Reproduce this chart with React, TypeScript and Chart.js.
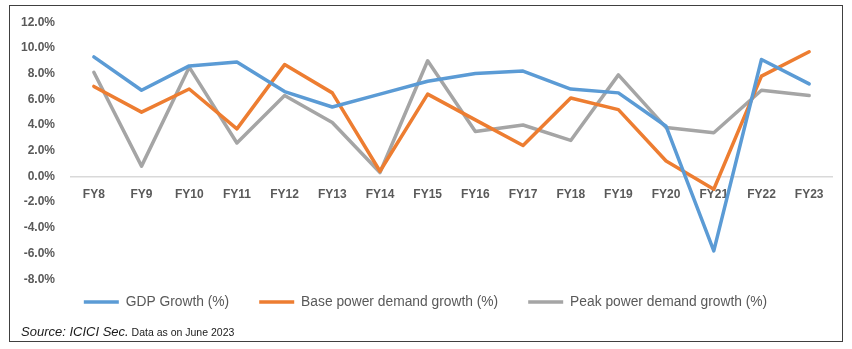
import React, { useEffect, useRef } from 'react';
import { Chart, registerables } from 'chart.js';

Chart.register(...registerables);

const categories = ['FY8', 'FY9', 'FY10', 'FY11', 'FY12', 'FY13', 'FY14', 'FY15', 'FY16', 'FY17', 'FY18', 'FY19', 'FY20', 'FY21', 'FY22', 'FY23'];
const gdpGrowth = [9.3, 6.7, 8.6, 8.9, 6.6, 5.4, 6.4, 7.4, 8.0, 8.2, 6.8, 6.5, 3.9, -5.8, 9.1, 7.2];
const basePowerDemandGrowth = [7.0, 5.0, 6.8, 3.7, 8.7, 6.5, 0.4, 6.4, 4.4, 2.4, 6.1, 5.2, 1.2, -1.0, 7.8, 9.7];
const peakPowerDemandGrowth = [8.1, 0.8, 8.5, 2.6, 6.3, 4.2, 0.3, 9.0, 3.5, 4.0, 2.8, 7.9, 3.8, 3.4, 6.7, 6.3];
const seriesNames = ['GDP Growth (%)', 'Base power demand growth (%)', 'Peak power demand growth (%)'];
const seriesColors = ['#5B9BD5', '#ED7D31', '#A5A5A5'];
const yMin = -8;
const yMax = 12;
const yStep = 2;

const legendShift = {
  id: 'legendShift',
  afterLayout(chart: any) {
    const l = chart.legend;
    if (l) {
      l.top -= 14;
      l.bottom -= 14;
      l.left += 5;
      l.right += 5;
    }
  },
};

export default function App() {
  const canvasRef = useRef<HTMLCanvasElement | null>(null);

  useEffect(() => {
    const canvas = canvasRef.current;
    if (!canvas) return;
    const seriesData = [gdpGrowth, basePowerDemandGrowth, peakPowerDemandGrowth];
    const chart = new Chart(canvas, {
      type: 'line',
      data: {
        labels: categories,
        datasets: seriesData.map((d, i) => ({
          label: seriesNames[i],
          data: d,
          borderColor: seriesColors[i],
          backgroundColor: seriesColors[i],
          borderWidth: 3.5,
          borderCapStyle: 'round' as const,
          borderJoinStyle: 'round' as const,
          pointRadius: 0,
          pointHoverRadius: 0,
          pointStyle: 'line' as const,
          tension: 0,
          fill: false,
        })),
      },
      options: {
        responsive: false,
        animation: false,
        maintainAspectRatio: false,
        layout: { padding: { left: 8, right: 19, top: 18, bottom: 16 } },
        plugins: {
          tooltip: { enabled: false },
          legend: {
            position: 'bottom',
            labels: {
              usePointStyle: true,
              pointStyle: 'line',
              pointStyleWidth: 35,
              boxHeight: 4,
              padding: 30,
              color: '#595959',
              font: { family: '"Liberation Sans", Arial, sans-serif', size: 13.8 },
            },
          },
        },
        scales: {
          x: {
            type: 'category',
            position: { y: 0 } as any,
            offset: true,
            grid: { display: false, drawTicks: false },
            border: { display: false },
            ticks: {
              padding: 11,
              color: '#595959',
              maxRotation: 0,
              autoSkip: false,
              font: { family: '"Liberation Sans", Arial, sans-serif', size: 12, weight: 'bold' },
            },
          },
          y: {
            min: yMin,
            max: yMax,
            afterFit: (scale: any) => {
              scale.width = 62;
            },
            grid: {
              drawTicks: false,
              lineWidth: 1.5,
              color: (ctx: any) => (ctx.tick && ctx.tick.value === 0 ? '#D9D9D9' : 'rgba(0,0,0,0)'),
            },
            border: { display: false },
            ticks: {
              stepSize: yStep,
              padding: 15,
              color: '#595959',
              font: { family: '"Liberation Sans", Arial, sans-serif', size: 12, weight: 'bold' },
              callback: (v: any) => Number(v).toFixed(1) + '%',
            },
          },
        },
      },
      plugins: [legendShift],
    });
    return () => chart.destroy();
  }, []);

  return (
    <div style={{ position: 'fixed', left: 0, top: 0, width: 852, height: 349, background: '#fff', overflow: 'hidden' }}>
      <canvas ref={canvasRef} width={852} height={349} style={{ position: 'absolute', left: 0, top: 0, width: 852, height: 349 }} />
      <div
        style={{
          position: 'absolute',
          left: 9,
          top: 5,
          width: 834,
          height: 337,
          border: '1px solid #404040',
          boxSizing: 'border-box',
          pointerEvents: 'none',
        }}
      />
      <div
        style={{
          position: 'absolute',
          left: 21,
          top: 322,
          lineHeight: '18px',
          whiteSpace: 'nowrap',
          fontFamily: '"Liberation Sans", Arial, sans-serif',
          color: '#1a1a1a',
        }}
      >
        <span style={{ fontStyle: 'italic', fontSize: 13 }}>Source: ICICI Sec.</span>
        <span style={{ fontSize: 10.5 }}> Data as on June 2023</span>
      </div>
    </div>
  );
}
